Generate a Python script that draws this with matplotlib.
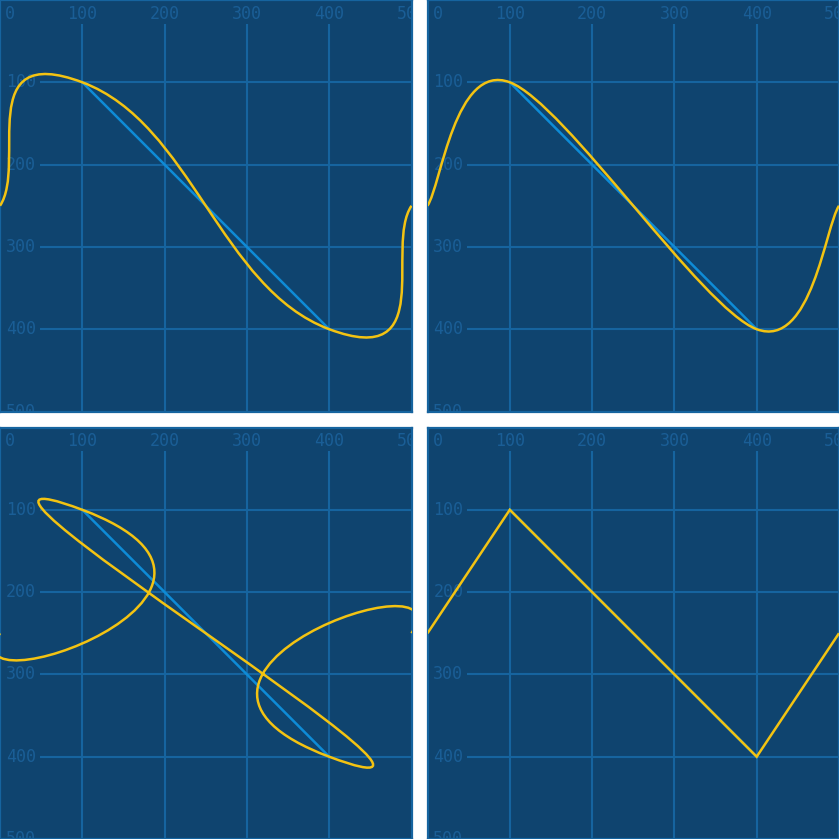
import matplotlib
matplotlib.use('Agg')
import matplotlib.pyplot as plt
from matplotlib.path import Path
from matplotlib.patches import PathPatch

# Points of the line (screen coordinates, y grows downwards)
xs = [0, 100, 400, 500]
ys = [250, 100, 400, 250]
# Cardinal tension of the yellow curve, one per panel
# order: top-left, top-right, bottom-left, bottom-right
tensions = [-1, 0, 5, 1]
ticks = [0, 100, 200, 300, 400, 500]

BG = '#0f446f'
GRID = '#16649f'
LABEL = '#1a5e96'
BLUE = '#0e8bd6'
YELLOW = '#f3c312'


def cardinal_path(px, py, tension):
    # cubic bezier segments of a cardinal spline, ends use the end point itself
    k = (1 - tension) / 6
    n = len(px)
    verts = [(px[0], py[0])]
    codes = [Path.MOVETO]
    for i in range(n - 1):
        a = max(i - 1, 0)
        b = min(i + 2, n - 1)
        c1 = (px[i] + k * (px[i + 1] - px[a]), py[i] + k * (py[i + 1] - py[a]))
        c2 = (px[i + 1] - k * (px[b] - px[i]), py[i + 1] - k * (py[b] - py[i]))
        verts += [c1, c2, (px[i + 1], py[i + 1])]
        codes += [Path.CURVE4] * 3
    return Path(verts, codes)


W = 839.0
size = 411.5
corners = [(0, 427.5), (427.5, 427.5), (0, 0), (427.5, 0)]

fig = plt.figure(figsize=(8.39, 8.39), dpi=100)
fig.patch.set_facecolor('white')

for (x0, y0), tension in zip(corners, tensions):
    ax = fig.add_axes([x0 / W, y0 / W, size / W, size / W])
    ax.set_facecolor(BG)
    ax.set_xlim(0, 500)
    ax.set_ylim(500, 0)
    ax.set_xticks([])
    ax.set_yticks([])
    for s in ax.spines.values():
        s.set_color(GRID)
        s.set_linewidth(1.6)

    # grid lines start after the labels
    inner = ticks[1:-1]
    ax.hlines(inner, 48, 500, color=GRID, linewidth=1.5, zorder=1)
    ax.vlines(inner, 29, 500, color=GRID, linewidth=1.5, zorder=1)

    for t in ticks:
        tx = 12 if t == 0 else t
        ax.text(tx, 17, str(t), ha='center', va='center', fontsize=12,
                family='DejaVu Sans Mono', color=LABEL, clip_on=True, zorder=2)
        if t > 0:
            ax.text(7, t, str(t), ha='left', va='center', fontsize=12,
                    family='DejaVu Sans Mono', color=LABEL, clip_on=True, zorder=2)

    ax.plot(xs[1:3], ys[1:3], color=BLUE, linewidth=1.8, zorder=3)
    patch = PathPatch(cardinal_path(xs, ys, tension), facecolor='none',
                      edgecolor=YELLOW, linewidth=1.8, zorder=4)
    ax.add_patch(patch)

fig.savefig('out.png', dpi=100, facecolor='white')
plt.close(fig)
